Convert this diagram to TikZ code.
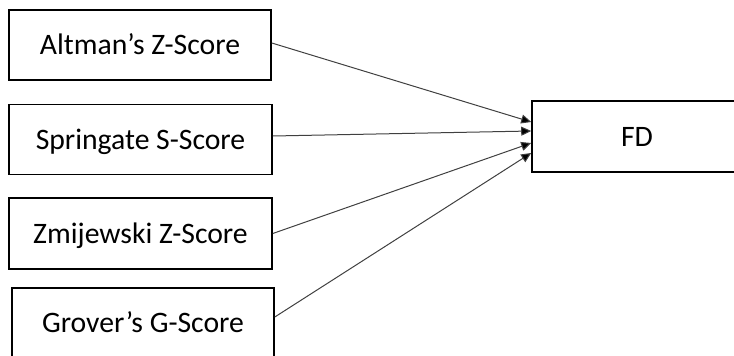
\documentclass[tikz,border=0pt]{standalone}
\usepackage{fontspec}
\setmainfont{Carlito}
\usetikzlibrary{arrows.meta}
\begin{document}
\begin{tikzpicture}[x=1pt,y=-1pt,
  box/.style={draw=black,line width=1.6pt,inner sep=0pt,minimum width=262pt,minimum height=70pt,
    text height=19pt,text depth=0pt,font=\fontsize{29.7}{35}\selectfont},
  conn/.style={draw=black!75,line width=1pt,-{Triangle[length=10pt,width=9pt,fill=black]}}]
\useasboundingbox (0,0) rectangle (734,356);
\node[box] (alt) at (140,45) {Altman’s Z-Score};
\node[box,minimum width=263pt] (spr) at (140.5,139.5) {Springate S-Score};
\node[box,minimum width=263pt,minimum height=71pt] (zmi) at (140.5,233.5) {Zmijewski Z-Score};
\node[box] (gro) at (143,323) {Grover’s G-Score};
\node[box,minimum width=210pt,minimum height=71pt] (fd) at (637,136.5) {FD};
\draw[conn] ([yshift=2pt]alt.east) -- ([yshift=14.5pt]fd.west);
\draw[conn] ([yshift=3.5pt]spr.east) -- ([yshift=5.5pt]fd.west);
\draw[conn] (zmi.east) -- ([yshift=-6.5pt]fd.west);
\draw[conn] ([yshift=6pt]gro.east) -- ([yshift=-16.5pt]fd.west);
\end{tikzpicture}
\end{document}
